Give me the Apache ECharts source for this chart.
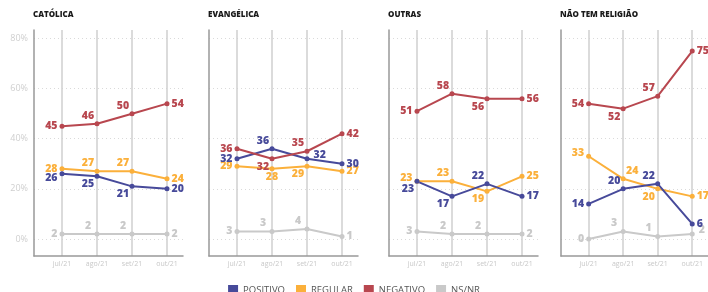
<!DOCTYPE html>
<html>
<head>
<meta charset="utf-8">
<script src="https://cdn.jsdelivr.net/npm/echarts@6/dist/echarts.min.js"></script>
<style>
  html, body { margin: 0; padding: 0; background: #fff; }
  #chart { width: 708px; height: 292px; }
</style>
</head>
<body>
<div id="chart"></div>
<script>
// dados
const categories = ['jul/21', 'ago/21', 'set/21', 'out/21'];
const panels = ['CATÓLICA', 'EVANGÉLICA', 'OUTRAS', 'NÃO TEM RELIGIÃO'];
const positivo = [[26, 25, 21, 20], [32, 36, 32, 30], [23, 17, 22, 17], [14, 20, 22, 6]];
const regular = [[28, 27, 27, 24], [29, 28, 29, 27], [23, 23, 19, 25], [33, 24, 20, 17]];
const negativo = [[45, 46, 50, 54], [36, 32, 35, 42], [51, 58, 56, 56], [54, 52, 57, 75]];
const nsnr = [[2, 2, 2, 2], [3, 3, 4, 1], [3, 2, 2, 2], [0, 3, 1, 2]];
const yTicks = [0, 20, 40, 60, 80];

// onde fica cada rótulo
const posLabels = [['Ld', 'BL', 'BL', 'R'], ['L', 'TL', 'Ru', 'R'], ['BL', 'BL', 'TL', 'R'], ['L', 'TL', 'TL', 'R']];
const regLabels = [['L', 'TL', 'TL', 'R'], ['L', 'B', 'BL', 'R'], ['Lu', 'TL', 'BL', 'R'], ['Lu', 'TR', 'BL', 'R']];
const negLabels = [['L', 'TL', 'TL', 'R'], ['L', 'BL', 'TL', 'R'], ['L', 'TL', 'BL', 'R'], ['L', 'BL', 'TL', 'R']];
const nsLabels = [['L', 'TL', 'TL', 'R'], ['L', 'TL', 'TL', 'R'], ['L', 'TL', 'TL', 'R'], ['L', 'TL', 'TL', 'Ru']];

const gridLefts = [34, 209, 389, 561];
const font = 'Open Sans';

function labelFor(code) {
  switch (code) {
    case 'L': return { position: 'left', distance: 2 };
    case 'Lu': return { position: 'left', distance: 2, offset: [0, -3] };
    case 'Ld': return { position: 'left', distance: 2, offset: [0, 4] };
    case 'R': return { position: 'right', distance: 2 };
    case 'Ru': return { position: 'right', distance: 4, offset: [0, -4] };
    case 'TL': return { position: 'top', distance: 0, offset: [-9, 0] };
    case 'TR': return { position: 'top', distance: 0, offset: [9, 0] };
    case 'BL': return { position: 'bottom', distance: 0, offset: [-9, 0] };
    case 'B': return { position: 'bottom', distance: 0 };
  }
}

const seriesDefs = [
  { name: 'NS/NR', values: nsnr, labels: nsLabels, color: '#c9c9c9' },
  { name: 'REGULAR', values: regular, labels: regLabels, color: '#fbb03b' },
  { name: 'POSITIVO', values: positivo, labels: posLabels, color: '#474a9a' },
  { name: 'NEGATIVO', values: negativo, labels: negLabels, color: '#b8474f' }
];

const grid = [], xAxis = [], yAxis = [], title = [], series = [];

panels.forEach((p, k) => {
  grid.push({ left: gridLefts[k], top: 30, width: 149, height: 226 });
  title.push({
    text: p, left: gridLefts[k] - 1, top: 11, padding: 0,
    textStyle: { fontSize: 8, fontWeight: 800, color: '#1a1a1a', fontFamily: font }
  });
  xAxis.push({
    type: 'value', gridIndex: k, min: -0.8, max: 3.457, minInterval: 1, maxInterval: 1,
    axisLine: { show: true, onZero: false, lineStyle: { color: '#999', width: 1.5 } },
    axisTick: { show: false },
    axisLabel: {
      showMinLabel: false, showMaxLabel: false, margin: 4,
      color: '#c8c8c8', fontSize: 7, fontFamily: font,
      formatter: v => (Number.isInteger(v) && categories[v]) ? categories[v] : ''
    },
    splitLine: { show: true, showMinLine: false, showMaxLine: false, lineStyle: { color: '#cfcfcf', width: 1.5 } }
  });
  yAxis.push({
    type: 'value', gridIndex: k, min: -6.8, max: 83.4, minInterval: 20, maxInterval: 20,
    axisLine: { show: true, onZero: false, lineStyle: { color: '#999', width: 1.5 } },
    axisTick: { show: false },
    axisLabel: {
      show: k === 0, showMinLabel: false, showMaxLabel: false, margin: 6,
      color: '#cfcfcf', fontSize: 9, fontFamily: font,
      formatter: v => yTicks.includes(v) ? v + '%' : ''
    },
    splitLine: { show: true, showMinLine: false, showMaxLine: false, lineStyle: { color: '#dadada', type: [1, 3], width: 1 } }
  });
  seriesDefs.forEach(d => {
    series.push({
      type: 'line', name: d.name, xAxisIndex: k, yAxisIndex: k,
      color: d.color, symbol: 'circle', symbolSize: 5,
      lineStyle: { width: 2 },
      label: { show: true, color: d.color, fontSize: 10.5, fontWeight: 800, fontFamily: font },
      data: d.values[k].map((v, i) => ({ value: [i, v], label: labelFor(d.labels[k][i]) }))
    });
  });
});

const chart = echarts.init(document.getElementById('chart'));
chart.setOption({
  animation: false,
  title: title,
  grid: grid,
  xAxis: xAxis,
  yAxis: yAxis,
  legend: {
    data: ['POSITIVO', 'REGULAR', 'NEGATIVO', 'NS/NR'],
    left: 'center', top: 280, icon: 'rect', itemWidth: 10, itemHeight: 10, itemGap: 11,
    selectedMode: false,
    textStyle: { fontSize: 9.5, color: '#555', fontFamily: font }
  },
  series: series
});
</script>
</body>
</html>
